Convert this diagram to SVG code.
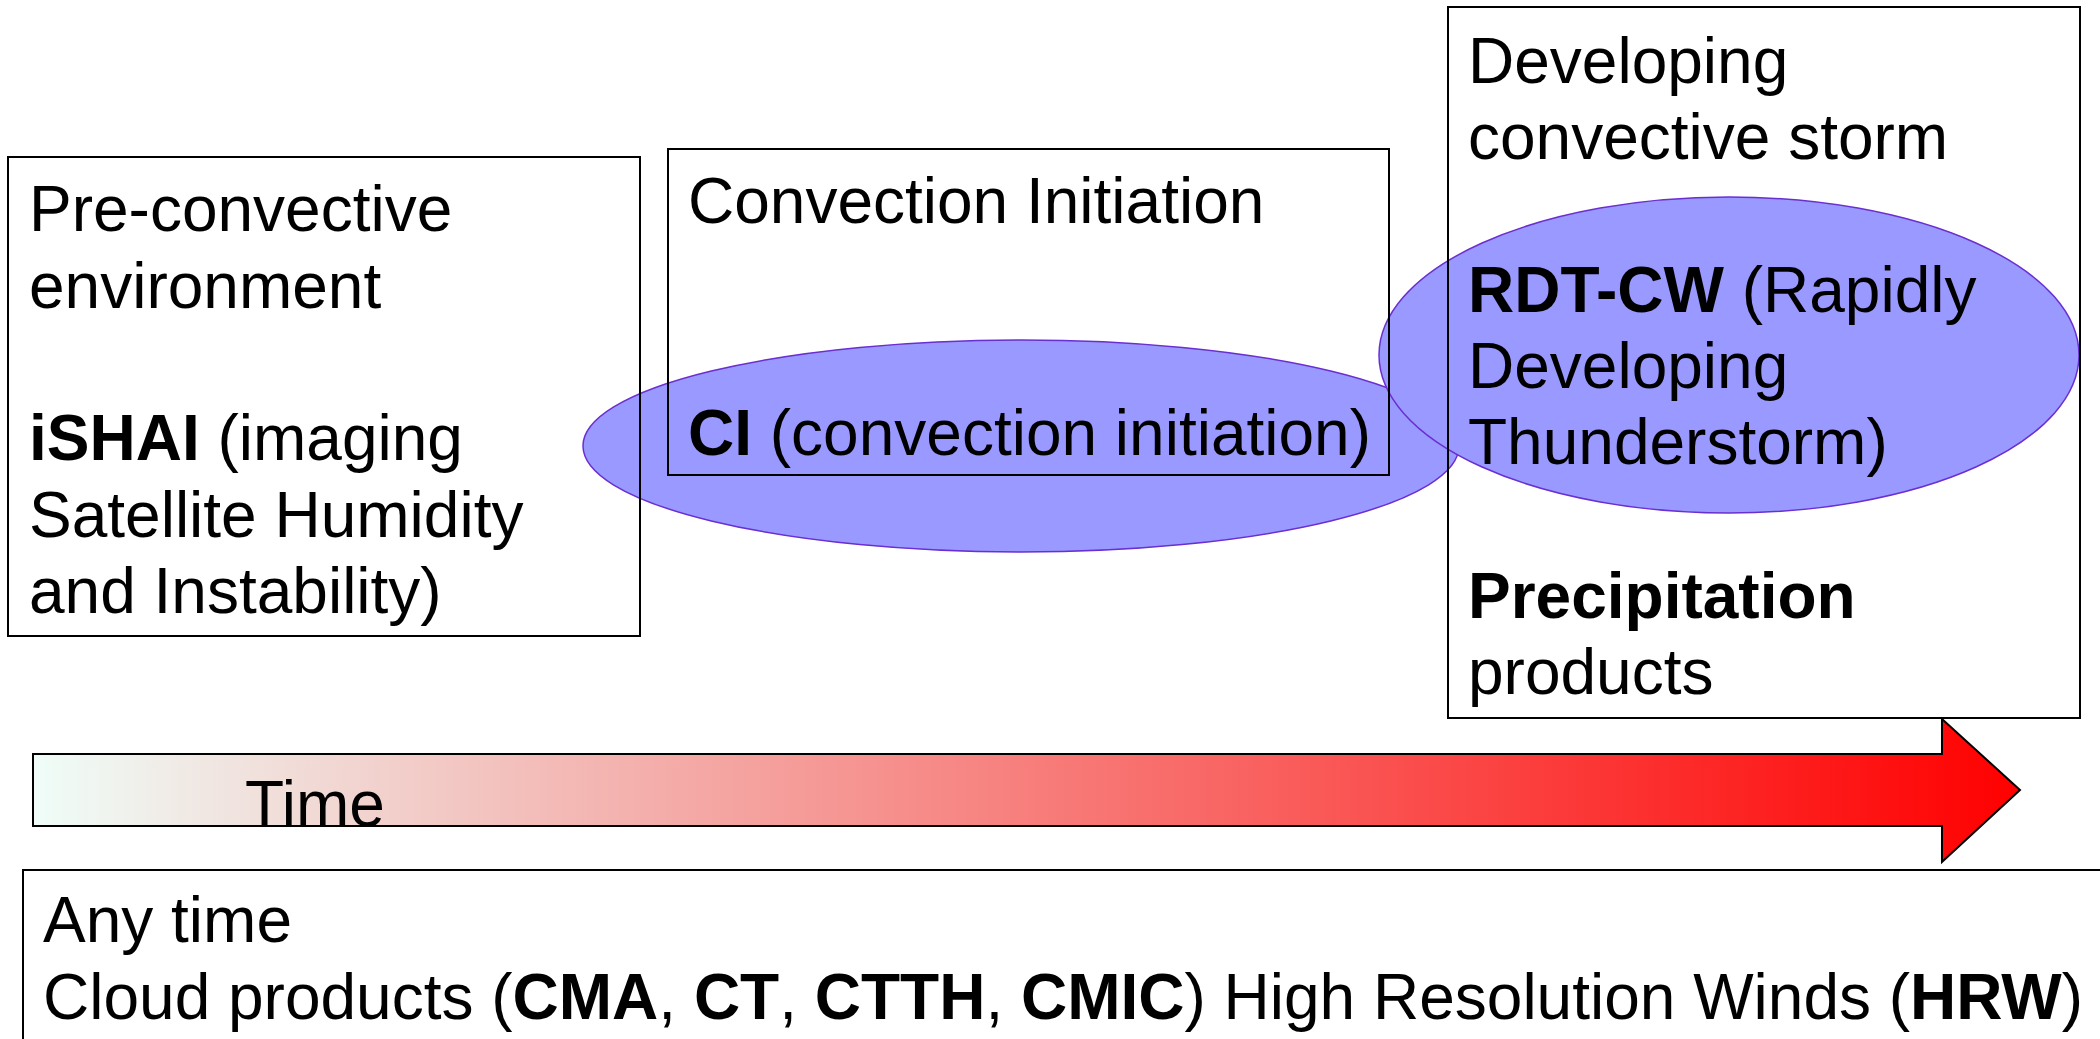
<svg xmlns="http://www.w3.org/2000/svg" width="2100" height="1039" viewBox="0 0 2100 1039">
<style>
.t{font-family:"Liberation Sans",Arial,sans-serif;font-size:64px;fill:#000}
.b{font-weight:bold}
.box{fill:none;stroke:#000;stroke-width:2}
.ell{fill:#9999ff;stroke:#6a2fd0;stroke-width:1.5}
</style>
<defs>
<linearGradient id="g" x1="33" y1="0" x2="2020" y2="0" gradientUnits="userSpaceOnUse">
<stop offset="0" stop-color="#effdf8"/>
<stop offset="1" stop-color="#ff0000"/>
</linearGradient>
</defs>
<rect width="2100" height="1039" fill="#fff"/>
<g id="ellipses">
<ellipse id="ci-ellipse" class="ell" cx="1021" cy="446" rx="438" ry="106"/>
<ellipse id="rdt-ellipse" class="ell" cx="1729" cy="355" rx="350" ry="158"/>
</g>
<g id="connectors">
<polygon id="time-arrow" points="33,754 1942,754 1942,719 2020,790 1942,862 1942,826 33,826" fill="url(#g)" stroke="#000" stroke-width="2"/>
<text class="t" x="245" y="826">Time</text>
</g>
<g id="pre-convective">
<rect class="box" x="8" y="157" width="632" height="479"/>
<text class="t" x="29" y="231">Pre-convective</text>
<text class="t" x="29" y="308">environment</text>
<text class="t" x="29" y="460"><tspan class="b">iSHAI</tspan> (imaging</text>
<text class="t" x="29" y="537">Satellite Humidity</text>
<text class="t" x="29" y="613">and Instability)</text>
</g>
<g id="convection-initiation">
<rect class="box" x="668" y="149" width="721" height="326"/>
<text class="t" x="688" y="223">Convection Initiation</text>
<text class="t" x="688" y="455"><tspan class="b">CI</tspan> (convection initiation)</text>
</g>
<g id="developing-storm">
<rect class="box" x="1448" y="7" width="632" height="711"/>
<text class="t" x="1468" y="83">Developing</text>
<text class="t" x="1468" y="159">convective storm</text>
<text class="t" x="1468" y="312"><tspan class="b">RDT-CW</tspan> (Rapidly</text>
<text class="t" x="1468" y="388">Developing</text>
<text class="t" x="1468" y="464">Thunderstorm)</text>
<text class="t b" x="1468" y="618">Precipitation</text>
<text class="t" x="1468" y="694">products</text>
</g>
<g id="any-time">
<rect class="box" x="23" y="870" width="2100" height="200" stroke-width="3"/>
<text class="t" x="43" y="942">Any time</text>
<text class="t" x="43" y="1019">Cloud products (<tspan class="b">CMA</tspan>, <tspan class="b">CT</tspan>, <tspan class="b">CTTH</tspan>, <tspan class="b">CMIC</tspan>) High Resolution Winds (<tspan class="b">HRW</tspan>)</text>
</g>
</svg>
